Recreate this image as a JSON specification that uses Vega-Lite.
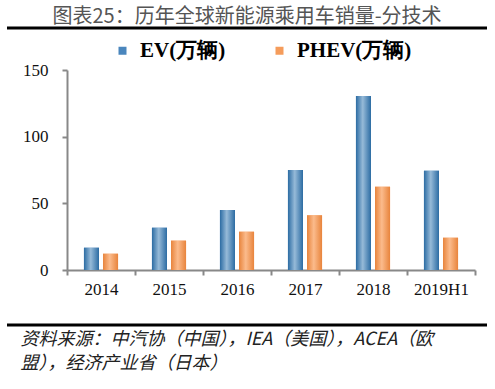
{
  "$schema": "https://vega.github.io/schema/vega-lite/v6.json",
  "width": 480,
  "height": 297,
  "autosize": "none",
  "padding": {"left": 7, "top": 28, "right": 8, "bottom": 64},
  "background": "white",
  "title": {
    "text": "图表25：历年全球新能源乘用车销量-分技术",
    "font": "Noto Sans CJK SC",
    "fontSize": 20,
    "fontWeight": "normal",
    "color": "#555555",
    "anchor": "middle",
    "frame": "group",
    "baseline": "bottom",
    "offset": 3,
    "dy": 22
  },
  "config": {
    "view": {"stroke": "#000000", "strokeWidth": 3, "strokeDash": [480, 297]},
    "axis": {"grid": false}
  },
  "data": {
    "values": [
      {"year": "2014", "type": "EV(万辆)", "value": 16.7},
      {"year": "2014", "type": "PHEV(万辆)", "value": 12.2},
      {"year": "2015", "type": "EV(万辆)", "value": 31.7},
      {"year": "2015", "type": "PHEV(万辆)", "value": 22.0},
      {"year": "2016", "type": "EV(万辆)", "value": 45.0},
      {"year": "2016", "type": "PHEV(万辆)", "value": 28.7},
      {"year": "2017", "type": "EV(万辆)", "value": 75.0},
      {"year": "2017", "type": "PHEV(万辆)", "value": 41.0},
      {"year": "2018", "type": "EV(万辆)", "value": 130.5},
      {"year": "2018", "type": "PHEV(万辆)", "value": 62.5},
      {"year": "2019H1", "type": "EV(万辆)", "value": 74.5},
      {"year": "2019H1", "type": "PHEV(万辆)", "value": 24.2}
    ]
  },
  "encoding": {
    "x": {
      "field": "year",
      "type": "nominal",
      "sort": null,
      "scale": {"type": "band", "range": [60, 468], "paddingInner": 0, "paddingOuter": 0},
      "axis": {
        "offset": -55,
        "labelAngle": 0,
        "labelFont": "Liberation Serif",
        "labelFontSize": 17,
        "labelColor": "#111111",
        "labelPadding": 6,
        "tickBand": "extent",
        "tickSize": 5,
        "tickColor": "#888888",
        "tickWidth": 2,
        "domainColor": "#888888",
        "domainWidth": 2,
        "title": ["资料来源：中汽协（中国），IEA（美国），ACEA（欧", "盟），经济产业省（日本）"],
        "titleFont": "Noto Sans CJK SC",
        "titleFontSize": 18,
        "titleFontStyle": "italic",
        "titleFontWeight": "normal",
        "titleColor": "#222222",
        "titleAlign": "left",
        "titleBaseline": "top",
        "titleAnchor": "start",
        "titleX": 13,
        "titleY": 60,
        "titleLineHeight": 24
      }
    },
    "y": {
      "field": "value",
      "type": "quantitative",
      "scale": {"domain": [0, 150], "range": [242, 42], "nice": false},
      "axis": {
        "offset": -60,
        "values": [0, 50, 100, 150],
        "labelFont": "Liberation Serif",
        "labelFontSize": 17,
        "labelColor": "#111111",
        "labelPadding": 14,
        "tickSize": 5,
        "tickColor": "#888888",
        "tickWidth": 2,
        "domainColor": "#888888",
        "domainWidth": 2,
        "title": null
      }
    },
    "xOffset": {
      "field": "type",
      "type": "nominal",
      "scale": {"domain": ["EV(万辆)", "PHEV(万辆)"], "paddingInner": 0.21, "paddingOuter": 0.89}
    }
  },
  "layer": [
    {
      "mark": {"type": "bar"},
      "encoding": {
        "color": {
          "field": "type",
          "type": "nominal",
          "scale": {"domain": ["EV(万辆)", "PHEV(万辆)"], "range": ["#4a86bd", "#f59c5b"]},
          "legend": {
            "title": null,
            "orient": "none",
            "direction": "horizontal",
            "legendX": 105,
            "legendY": 12,
            "symbolType": "square",
            "symbolSize": 64,
            "symbolStrokeWidth": 0,
            "labelFont": "Liberation Serif",
            "labelFontSize": 21,
            "labelFontWeight": "bold",
            "labelColor": "#000000",
            "labelOffset": 7,
            "columnPadding": 43,
            "labelLimit": 300
          }
        }
      }
    },
    {
      "transform": [{"filter": "datum.type === 'EV(万辆)'"}],
      "mark": {
        "type": "bar",
        "fill": {"gradient": "linear", "x1": 0, "x2": 1, "y1": 0, "y2": 0,
          "stops": [
            {"offset": 0, "color": "#2c6ca3"},
            {"offset": 0.45, "color": "#96bad8"},
            {"offset": 1, "color": "#2c6ca3"}
          ]}
      }
    },
    {
      "transform": [{"filter": "datum.type === 'PHEV(万辆)'"}],
      "mark": {
        "type": "bar",
        "fill": {"gradient": "linear", "x1": 0, "x2": 1, "y1": 0, "y2": 0,
          "stops": [
            {"offset": 0, "color": "#e8843c"},
            {"offset": 0.45, "color": "#fbbb8c"},
            {"offset": 1, "color": "#e8843c"}
          ]}
      }
    }
  ]
}
